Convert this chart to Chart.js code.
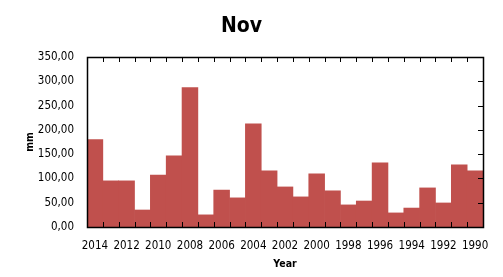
<!DOCTYPE html>
<html>
<head>
<meta charset="utf-8">
<script src="https://cdn.jsdelivr.net/npm/chart.js@4"></script>
<style>
  body { margin: 0; background: #fff; }
  #wrap { width: 503px; height: 277px; }
</style>
</head>
<body>
<div id="wrap"><canvas id="novChart" width="503" height="277"></canvas></div>
<script>
// Data
const years = ['2014', '2013', '2012', '2011', '2010', '2009', '2008', '2007', '2006', '2005',
               '2004', '2003', '2002', '2001', '2000', '1999', '1998', '1997', '1996', '1995',
               '1994', '1993', '1992', '1991', '1990'];
const rainfall = [180, 95, 95, 35, 107, 146.5, 287, 25, 76, 60,
                  212.5, 115.5, 82.5, 62, 109.5, 74.5, 45.5, 53.5, 132, 29,
                  39, 80.5, 49.5, 128, 115.5];
const yTicks = [0, 50, 100, 150, 200, 250, 300, 350];

const fontFamily = '"DejaVu Sans Condensed", "DejaVu Sans", Verdana, sans-serif';
Chart.defaults.font.family = fontFamily;
Chart.defaults.color = '#000';

// frame around the plot with short inward ticks (top, bottom, right)
const framePlugin = {
    id: 'frame',
    afterDatasetsDraw(chart) {
        const ctx = chart.ctx;
        const a = chart.chartArea;
        const xs = chart.scales.x;
        const ys = chart.scales.y;
        const len = 5;
        ctx.save();
        ctx.strokeStyle = '#000';
        ctx.lineWidth = 1;
        ctx.beginPath();
        for (let i = 1; i < years.length; i++) {
            const px = Math.round((xs.getPixelForValue(i - 1) + xs.getPixelForValue(i)) / 2) + 0.5;
            ctx.moveTo(px, a.bottom);
            ctx.lineTo(px, a.bottom - len);
            ctx.moveTo(px, a.top);
            ctx.lineTo(px, a.top + len);
        }
        yTicks.forEach(function(v) {
            const py = Math.round(ys.getPixelForValue(v)) + 0.5;
            ctx.moveTo(a.right, py);
            ctx.lineTo(a.right - len, py);
        });
        ctx.stroke();
        ctx.lineWidth = 1.5;
        ctx.strokeRect(Math.round(a.left) + 0.5, Math.round(a.top) + 0.5,
                       Math.round(a.right - a.left), Math.round(a.bottom - a.top));
        ctx.restore();
    }
};

new Chart(document.getElementById('novChart'), {
    type: 'bar',
    data: {
        labels: years,
        datasets: [{
            label: 'mm',
            data: rainfall,
            backgroundColor: '#C0504D',
            borderWidth: 0,
            barPercentage: 1.0,
            categoryPercentage: 1.0
        }]
    },
    options: {
        responsive: false,
        animation: false,
        layout: { padding: { left: 0, right: 20, top: 0, bottom: 0 } },
        plugins: {
            legend: { display: false },
            tooltip: { enabled: false },
            title: {
                display: true,
                text: 'Nov',
                font: { size: 21, weight: 'bold' },
                padding: { top: 13.5, bottom: 18.3 }
            }
        },
        scales: {
            x: {
                grid: { display: false, drawTicks: false },
                border: { display: false },
                afterFit: function(scale) { scale.height = 50; },
                ticks: {
                    autoSkip: false,
                    maxRotation: 0,
                    padding: 12,
                    font: { size: 11.5 },
                    callback: function(v, i) { return i % 2 === 0 ? years[i] : ''; }
                },
                title: {
                    display: true,
                    text: 'Year',
                    font: { size: 10.5, weight: 'bold' },
                    padding: { top: 0, bottom: 6 }
                }
            },
            y: {
                min: 0,
                max: 350,
                grid: { display: false, drawTicks: false },
                border: { display: false },
                afterFit: function(scale) { scale.width = 87; },
                afterBuildTicks: function(scale) {
                    scale.ticks = yTicks.map(function(v) { return { value: v }; });
                },
                ticks: {
                    padding: 13,
                    font: { size: 11.5 },
                    callback: function(v) { return v.toFixed(2).replace('.', ','); }
                },
                title: {
                    display: true,
                    text: 'mm',
                    font: { size: 10.5, weight: 'bold' },
                    padding: { top: 24, bottom: 0 }
                }
            }
        }
    },
    plugins: [framePlugin]
});
</script>
</body>
</html>
